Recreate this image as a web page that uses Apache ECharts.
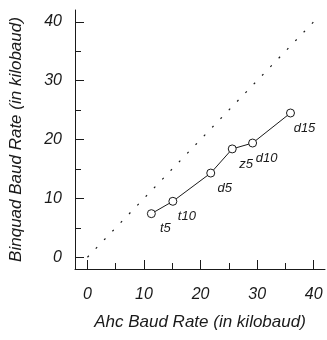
<!DOCTYPE html>
<html>
<head>
<meta charset="utf-8">
<script src="https://cdn.jsdelivr.net/npm/echarts@6/dist/echarts.min.js"></script>
<style>
  html, body { margin: 0; padding: 0; background: #fff; }
  #main { width: 327px; height: 340px; }
</style>
</head>
<body>
<div id="main"></div>
<script>
// Ahc vs Binquad baud rates (kilobaud)
const names = ["t5", "t10", "d5", "z5", "d10", "d15"];
const ahcRate = [11.3, 15.1, 21.8, 25.6, 29.2, 35.9];
const binquadRate = [7.4, 9.5, 14.3, 18.4, 19.4, 24.5];

// y = x reference line
const diagX = [0, 40];
const diagY = [0, 40];

const majorTicks = [0, 10, 20, 30, 40];
const minorTicks = [5, 15, 25, 35];

const FONT = "'Liberation Sans', Arial, sans-serif";
const INK = "#1a1a1a";

const chart = echarts.init(document.getElementById("main"), null, { renderer: "canvas" });

const mainAxis = (name, min, max, gap) => ({
  type: "value",
  min: min,
  max: max,
  name: name,
  nameLocation: "middle",
  nameGap: gap,
  nameTextStyle: { fontFamily: FONT, fontStyle: "italic", fontSize: 17, color: INK },
  axisLine: { show: true, onZero: false, lineStyle: { color: INK, width: 1 } },
  axisTick: { show: true, inside: true, length: 9, customValues: majorTicks, lineStyle: { color: INK } },
  axisLabel: {
    customValues: majorTicks,
    fontFamily: FONT,
    fontStyle: "italic",
    fontSize: 16,
    color: INK,
    margin: 13
  },
  splitLine: { show: false }
});

// second axis on the same side, only for the shorter 5-unit ticks
const minorAxis = (min, max, pos) => ({
  type: "value",
  min: min,
  max: max,
  position: pos,
  axisLine: { show: false, onZero: false },
  axisTick: { show: true, inside: true, length: 6, customValues: minorTicks, lineStyle: { color: INK } },
  axisLabel: { show: false },
  splitLine: { show: false }
});

const xMain = mainAxis("Ahc Baud Rate (in kilobaud)", -2.2, 42, 45);
xMain.position = "bottom";
xMain.axisLabel.margin = 18;
const yMain = mainAxis("Binquad Baud Rate (in kilobaud)", -2, 42, 50);
yMain.position = "left";

const option = {
  backgroundColor: "#fff",
  animation: false,
  grid: { left: 74, right: 2, top: 10, bottom: 71 },
  xAxis: [xMain, minorAxis(-2.2, 42, "bottom")],
  yAxis: [yMain, minorAxis(-2, 42, "left")],
  series: [
    {
      type: "line",
      xAxisIndex: 0,
      yAxisIndex: 0,
      data: diagX.map((x, i) => [x, diagY[i]]),
      symbol: "none",
      silent: true,
      lineStyle: { color: INK, width: 1.2, type: [2, 10] }
    },
    {
      type: "line",
      xAxisIndex: 0,
      yAxisIndex: 0,
      data: ahcRate.map((x, i) => ({ value: [x, binquadRate[i]], name: names[i] })),
      symbol: "circle",
      symbolSize: 8,
      itemStyle: { color: "#fff", borderColor: INK, borderWidth: 1 },
      lineStyle: { color: INK, width: 1 },
      label: {
        show: true,
        position: "inside",
        offset: [14, 15],
        formatter: (p) => p.name,
        fontFamily: FONT,
        fontStyle: "italic",
        fontSize: 13,
        color: INK
      }
    }
  ]
};

chart.setOption(option);
</script>
</body>
</html>
